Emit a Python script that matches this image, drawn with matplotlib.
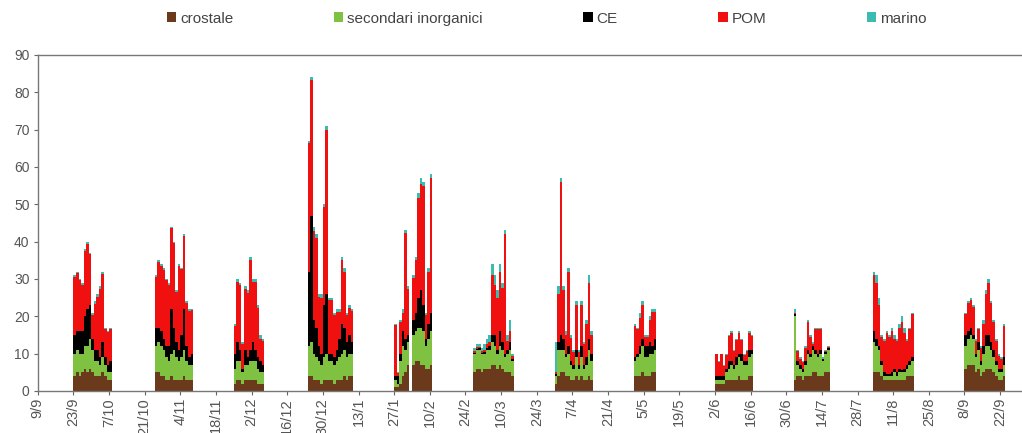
import numpy as np
import pandas as pd
from matplotlib import pyplot as plt
from matplotlib.patches import Patch

plt.rcParams['font.family'] = ['Liberation Sans', 'DejaVu Sans']

# first day on the axis and the campaign start dates (daily samples)
base_date = '2008-09-09'
campaign_starts = ['2008-09-23', '2008-10-25', '2008-11-25', '2008-12-24',
                   '2009-01-27', '2009-02-27', '2009-03-31', '2009-05-01',
                   '2009-06-02', '2009-07-03', '2009-08-03', '2009-09-08']

crostale = [
    [4, 5, 4, 5, 6, 5, 6, 5, 4, 4, 4, 5, 4, 3, 3],
    [5, 5, 4, 4, 3, 3, 4, 3, 3, 3, 3, 4, 3, 3, 3],
    [2, 3, 3, 2, 3, 3, 3, 3, 3, 2, 2, 2],
    [4, 4, 3, 3, 3, 2, 3, 3, 3, 3, 2, 3, 3, 3, 4, 3, 4, 4],
    [1, 1, 2, 4, 5, 7, 0, 7, 8, 8, 7, 7, 6, 6, 7],
    [5, 6, 6, 5, 6, 6, 6, 7, 7, 6, 7, 6, 5, 5, 5, 4],
    [2, 4, 5, 5, 4, 4, 3, 3, 4, 3, 4, 3, 3, 4, 3],
    [4, 4, 4, 5, 4, 4, 4, 5, 5],
    [2, 2, 2, 2, 3, 3, 3, 3, 3, 4, 3, 3, 3, 4, 4],
    [3, 4, 4, 3, 4, 4, 4, 5, 5, 4, 4, 4, 5, 5],
    [5, 5, 5, 4, 3, 3, 3, 3, 3, 3, 3, 3, 3, 4, 4, 4],
    [6, 7, 7, 7, 5, 6, 4, 5, 6, 6, 6, 5, 4, 3, 3, 4],
]
secondari = [
    [6, 6, 6, 5, 6, 7, 8, 6, 4, 4, 3, 4, 3, 2, 2],
    [7, 8, 8, 7, 6, 5, 6, 8, 6, 5, 6, 7, 5, 4, 4],
    [4, 5, 5, 3, 4, 4, 5, 5, 5, 4, 3, 3],
    [8, 9, 7, 6, 5, 5, 6, 7, 5, 5, 5, 5, 6, 7, 7, 6, 6, 6],
    [2, 1, 6, 8, 6, 6, 0, 8, 8, 9, 10, 9, 6, 8, 9],
    [5, 5, 5, 5, 4, 5, 5, 6, 5, 4, 5, 5, 4, 5, 6, 4],
    [2, 7, 6, 6, 5, 6, 4, 3, 5, 3, 5, 3, 4, 7, 5],
    [4, 5, 6, 7, 5, 5, 6, 5, 6],
    [1, 1, 1, 1, 2, 3, 4, 3, 4, 5, 5, 4, 4, 5, 6],
    [17, 3, 2, 2, 3, 6, 5, 6, 5, 5, 6, 4, 5, 6],
    [8, 7, 6, 3, 1, 1, 1, 1, 2, 1, 2, 2, 2, 2, 3, 4],
    [6, 7, 8, 7, 4, 5, 3, 5, 6, 6, 5, 4, 3, 2, 2, 3],
]
ce = [
    [5, 5, 6, 6, 8, 10, 9, 3, 3, 3, 2, 4, 2, 2, 3],
    [5, 4, 4, 3, 3, 4, 12, 6, 4, 3, 6, 11, 4, 2, 3],
    [4, 5, 3, 1, 4, 2, 3, 5, 3, 3, 3, 2],
    [20, 34, 9, 8, 4, 3, 14, 16, 2, 2, 2, 3, 5, 8, 6, 4, 5, 3],
    [1, 2, 2, 4, 3, 2, 0, 4, 5, 8, 10, 7, 2, 4, 5],
    [0.3, 0.3, 0.4, 0.3, 0.5, 0.5, 1, 2, 3, 1, 4, 2, 1, 1, 2, 0.5],
    [0.5, 2, 4, 3, 1, 2, 1, 1, 2, 1, 3, 1, 2, 3, 2],
    [1, 1, 2, 2, 3, 3, 3, 2, 3],
    [1, 1, 1, 1, 1, 2, 1, 1, 2, 1, 2, 1, 1, 2, 1],
    [0.5, 1, 1, 1, 1, 1, 1, 1, 1, 1, 1, 0.5, 0.5, 0.5],
    [3, 2, 1, 1, 1, 0.5, 0.5, 1, 1, 1, 1, 0.5, 1, 1, 1, 1],
    [3, 2, 2, 1, 1, 2, 1, 2, 3, 3, 2, 2, 1, 1, 1, 2],
]
pom = [
    [15.5, 15.6, 13.7, 12.5, 17.4, 17.5, 13.6, 6.4, 12.2, 14.3, 18.2, 18.4, 7.6, 8.7, 8.7],
    [13.6, 17.5, 17.4, 18.5, 17.6, 16.5, 21.7, 22.6, 13.5, 22.4, 17.6, 19.5, 11.6, 12.5, 11.6],
    [7.5, 16.2, 17.4, 6.5, 16.2, 17.3, 24, 16.1, 18.2, 13.3, 6, 6.4],
    [34.4, 36.2, 23.8, 24, 13.2, 15, 26.2, 44, 14.5, 14.4, 11.4, 10.2, 7.2, 17, 15, 7.4, 7.2, 8.4],
    [13.7, 0.8, 8.5, 5, 28.2, 12.4, 0, 11.2, 14, 26.8, 28.5, 31.8, 6.4, 14, 36],
    [0.5, 0.5, 0.5, 0.5, 0.5, 1, 1, 16, 13.5, 14, 16, 14.5, 32, 2.5, 3, 1],
    [0.5, 13, 41, 13, 5, 20, 6.2, 3.5, 12, 3.5, 11, 5.5, 9, 15, 5],
    [8.5, 6.5, 7.5, 9, 2.5, 2.5, 6, 9.2, 7.2],
    [5.8, 3.8, 5.8, 2.8, 3.7, 6.7, 7.6, 3.7, 4.7, 5.6, 3.6, 1.7, 2.7, 4.5, 3.6],
    [0.5, 2.7, 1.7, 1.7, 3.5, 7.5, 4.5, 0.5, 5.5, 6.5, 5.5, 0.2, 0.2, 0.3],
    [15, 15, 11, 6.5, 8.5, 11, 10, 11, 8, 8.5, 11, 13, 9.5, 6.5, 8.5, 11.5],
    [5.5, 7.5, 7.5, 7.5, 3.5, 3.5, 3.5, 6, 11, 14, 10.5, 7.5, 5.5, 3.5, 2.5, 8.5],
]
marino = [
    [0.5, 0.4, 0.3, 0.5, 0.6, 0.5, 0.4, 0.6, 0.8, 0.7, 0.8, 0.6, 0.4, 0.3, 0.3],
    [0.4, 0.5, 0.6, 0.5, 0.4, 0.5, 0.3, 0.4, 0.5, 0.6, 0.4, 0.5, 0.4, 0.5, 0.4],
    [0.5, 0.8, 0.6, 0.5, 0.8, 0.7, 1.0, 0.9, 0.8, 0.7, 1.0, 0.6],
    [0.6, 0.8, 1.2, 1.0, 0.8, 1.0, 0.8, 1.0, 0.5, 0.6, 0.6, 0.8, 0.8, 1.0, 1.0, 0.6, 0.8, 0.6],
    [0.3, 0.2, 0.5, 1.0, 0.8, 0.6, 0, 0.8, 1.0, 1.2, 1.5, 1.2, 0.6, 1.0, 1.0],
    [0.7, 0.7, 0.6, 0.7, 1.5, 1.5, 2.0, 3, 2.5, 2, 2, 1.5, 1, 1.5, 3, 0.5],
    [8, 2, 1, 1, 1, 1, 0.8, 0.5, 1, 0.5, 1, 0.5, 1, 2, 1],
    [0.5, 0.5, 1.5, 1, 0.5, 0.5, 1, 0.8, 0.8],
    [0.2, 0.2, 0.2, 0.2, 0.3, 0.3, 0.4, 0.3, 0.3, 0.4, 0.4, 0.3, 0.3, 0.5, 0.4],
    [1, 0.3, 0.3, 0.3, 0.5, 0.5, 0.5, 0.5, 0.5, 0.5, 0.5, 0.3, 0.3, 0.3],
    [1, 2, 2, 0.5, 0.5, 0.5, 0.5, 1, 1, 0.5, 1, 1.5, 1.5, 0.5, 0.5, 0.5],
    [0.5, 0.5, 0.5, 0.5, 0.5, 0.5, 0.5, 1, 1, 1, 0.5, 0.5, 0.5, 0.5, 0.5, 0.5],
]

labels = ['crostale', 'secondari inorganici', 'CE', 'POM', 'marino']
colors = ['#6b3a1c', '#7fc241', '#000000', '#f01010', '#3cbcb0']

# day positions relative to the first axis day
base = pd.Timestamp(base_date)
days = []
for start, vals in zip(campaign_starts, crostale):
    d0 = (pd.Timestamp(start) - base).days
    days.extend(range(d0, d0 + len(vals)))
days = np.array(days)

series = [np.concatenate([np.array(c, dtype=float) for c in s])
          for s in (crostale, secondari, ce, pom, marino)]

fig = plt.figure(figsize=(10.22, 4.33), dpi=100)
ax = fig.add_axes([0.037, 0.097, 0.963, 0.776])

bottom = np.zeros(len(days))
for vals, lab, col in zip(series, labels, colors):
    ax.bar(days, vals, width=1.0, bottom=bottom, align='edge', color=col,
           linewidth=0, label=lab)
    bottom += vals

# x ticks every 14 days
tick_days = np.arange(0, 379, 14)
tick_labels = [(base + pd.Timedelta(days=int(d))).strftime('%-d/%-m') for d in tick_days]
ax.set_xticks(tick_days)
ax.set_xticklabels(tick_labels, rotation=90, fontsize=10.5, color='#555555')
ax.set_xlim(0, 386.6)

ax.set_ylim(0, 90)
ax.set_yticks(np.arange(0, 91, 10))
ax.tick_params(axis='y', labelsize=10, colors='#666666', labelcolor='#555555',
               length=3, width=0.8, pad=3)
ax.tick_params(axis='x', length=3, width=0.8, colors='#666666', labelcolor='#555555', pad=2)

for side in ('left', 'bottom', 'top'):
    ax.spines[side].set_color('#777777')
    ax.spines[side].set_linewidth(1.0)
ax.spines['right'].set_visible(False)

handles = [Patch(facecolor=c, edgecolor='none') for c in colors]
fig.legend(handles, labels, loc='upper center', bbox_to_anchor=(0.535, 1.005),
           ncol=5, frameon=False, fontsize=11, handlelength=0.6, handleheight=0.6,
           handletextpad=0.25, columnspacing=6.6, labelcolor='#444444')

fig.savefig('out.png', dpi=100)
